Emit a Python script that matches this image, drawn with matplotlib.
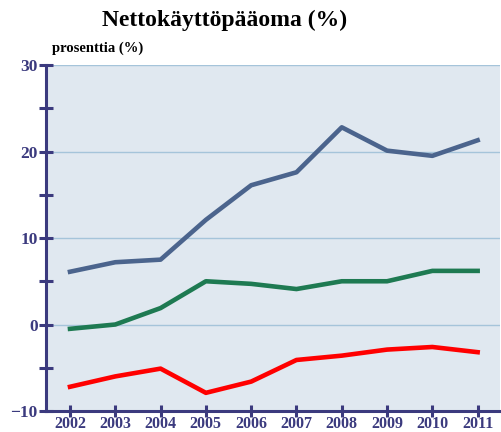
import matplotlib
matplotlib.use("Agg")
import matplotlib.pyplot as plt

years = [2002, 2003, 2004, 2005, 2006, 2007, 2008, 2009, 2010, 2011]
blue_vals = [6.1, 7.2, 7.5, 12.1, 16.1, 17.6, 22.8, 20.1, 19.5, 21.3]
green_vals = [-0.5, 0.0, 1.9, 5.0, 4.7, 4.1, 5.0, 5.0, 6.2, 6.2]
red_vals = [-7.2, -6.0, -5.1, -7.9, -6.6, -4.1, -3.6, -2.9, -2.6, -3.2]
y_ticks = [-10, 0, 10, 20, 30]
y_labels = ["\u221210", "0", "10", "20", "30"]
y_minor = [-5, 5, 15, 25]

navy = "#3b3a7e"
plt.rcParams["font.family"] = ["Liberation Serif", "DejaVu Serif"]

fig = plt.figure(figsize=(5.02, 4.32), dpi=100)
ax = fig.add_axes([0.0916, 0.0486, 0.905, 0.8009])
ax.set_facecolor("#e0e8f0")

for y in (0, 10, 20, 30):
    ax.axhline(y, color="#a5c4da", lw=1.0, zorder=1)

ax.plot(years, blue_vals, color="#4b648d", lw=3.3, zorder=3)
ax.plot(years, green_vals, color="#1e7a52", lw=3.3, zorder=3)
ax.plot(years, red_vals, color="#ff0000", lw=3.3, zorder=3)

ax.set_xlim(2001.47, 2011.5)
ax.set_ylim(-10, 30)
ax.set_xticks(years)
ax.set_xticklabels([str(y) for y in years], fontweight="bold")
ax.set_yticks(y_ticks)
ax.set_yticklabels(y_labels, fontweight="bold")
ax.set_yticks(y_minor, minor=True)

for s in ("top", "right"):
    ax.spines[s].set_visible(False)
for s in ("left", "bottom"):
    ax.spines[s].set_color(navy)
    ax.spines[s].set_linewidth(2.2)

ax.tick_params(axis="both", which="both", direction="inout", color=navy,
               width=2.2, labelcolor=navy, labelsize=12.5)
ax.tick_params(axis="y", which="both", length=10, pad=1)
ax.tick_params(axis="x", which="major", length=9, pad=-1, labelsize=11.5)

fig.text(0.448, 0.952, "Nettokäyttöpääoma (%)", ha="center", va="center",
         fontsize=17, fontweight="bold", color="black")
fig.text(0.104, 0.888, "prosenttia (%)", ha="left", va="center",
         fontsize=10.5, fontweight="bold", color="black")

fig.savefig("out.png", dpi=100)
